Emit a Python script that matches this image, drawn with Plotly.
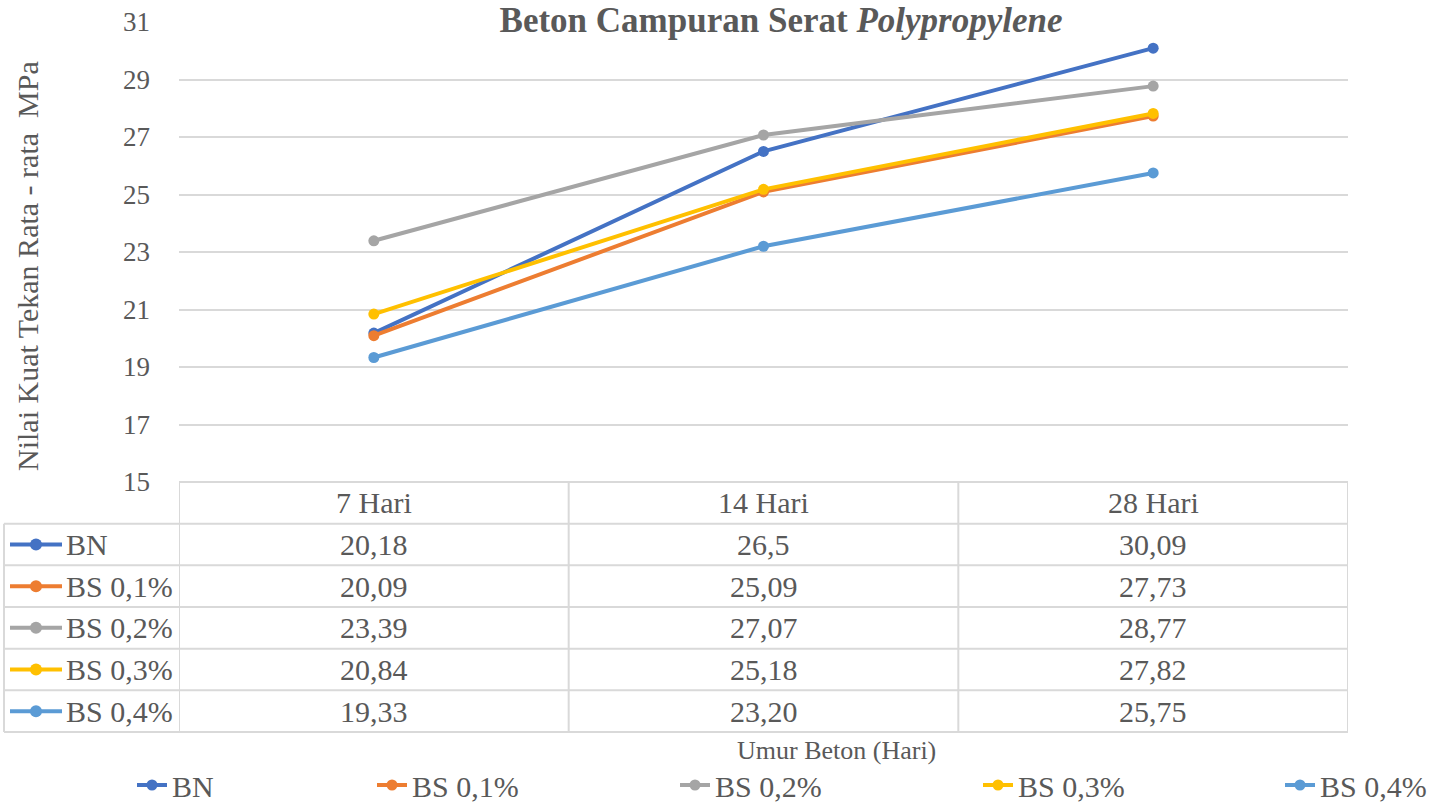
import plotly.graph_objects as go

categories = ["7 Hari", "14 Hari", "28 Hari"]
series_names = ["BN", "BS 0,1%", "BS 0,2%", "BS 0,3%", "BS 0,4%"]
bn = ["20,18", "26,5", "30,09"]
bs01 = ["20,09", "25,09", "27,73"]
bs02 = ["23,39", "27,07", "28,77"]
bs03 = ["20,84", "25,18", "27,82"]
bs04 = ["19,33", "23,20", "25,75"]
series_text = [bn, bs01, bs02, bs03, bs04]
colors = ["#4472C4", "#ED7D31", "#A5A5A5", "#FFC000", "#5B9BD5"]
y_ticks = [15, 17, 19, 21, 23, 25, 27, 29, 31]

W, H = 1431, 804
L, R, T, B = 179, 1348, 22, 482
PW, PH = R - L, B - T
FONT = "Liberation Serif"
TXT = "#595959"
GRID = "#D9D9D9"
legend_text_px = [172, 412, 715, 1018, 1320]

def px(x):
    return (x - L) / PW

def py(y):
    return (B - y) / PH

fig = go.Figure()
legend_ids = ["legend"] + ["legend%d" % (i + 2) for i in range(len(series_names) - 1)]
for name, txt, col, lid in zip(series_names, series_text, colors, legend_ids):
    vals = [float(t.replace(",", ".")) for t in txt]
    fig.add_trace(go.Scatter(
        x=categories, y=vals, name=name, mode="lines+markers", legend=lid,
        line=dict(color=col, width=4), marker=dict(color=col, size=11),
    ))

shapes = []
annotations = []

# data table
row_h = (732 - 482) / 6
rows = [B + i * row_h for i in range(7)]
line_style = dict(color=GRID, width=2)
shapes.append(dict(type="line", xref="x", yref="paper", x0=-0.5, x1=2.5,
                   y0=py(rows[0]), y1=py(rows[0]), line=line_style))
for r in rows[1:]:
    shapes.append(dict(type="line", xref="paper", yref="paper", x0=px(4), x1=1,
                       y0=py(r), y1=py(r), line=line_style))
for xv in [-0.5, 0.5, 1.5, 2.5]:
    shapes.append(dict(type="line", xref="x", yref="paper", x0=xv, x1=xv,
                       y0=py(rows[0]), y1=py(rows[-1]), line=line_style))
shapes.append(dict(type="line", xref="paper", yref="paper", x0=px(4), x1=px(4),
                   y0=py(rows[1]), y1=py(rows[-1]), line=line_style))

TF = dict(family=FONT, size=30, color=TXT)
for c in categories:
    annotations.append(dict(x=c, xref="x", y=py((rows[0] + rows[1]) / 2), yref="paper",
                            text=c, showarrow=False, xanchor="center", yanchor="middle", font=TF))
for i, (name, txt, col) in enumerate(zip(series_names, series_text, colors)):
    yc = py((rows[i + 1] + rows[i + 2]) / 2)
    shapes.append(dict(type="line", xref="paper", yref="paper", x0=px(10), x1=px(62),
                       y0=yc, y1=yc, line=dict(color=col, width=4)))
    shapes.append(dict(type="circle", xref="paper", yref="paper",
                       x0=px(30), x1=px(42), y0=yc - 6 / PH, y1=yc + 6 / PH,
                       fillcolor=col, line=dict(color=col, width=0)))
    annotations.append(dict(x=px(64), xref="paper", y=yc, yref="paper", text=name,
                            xanchor="left", yanchor="middle", showarrow=False, font=TF))
    for c, t in zip(categories, txt):
        annotations.append(dict(x=c, xref="x", y=yc, yref="paper", text=t, showarrow=False,
                                xanchor="center", yanchor="middle", font=TF))

annotations.append(dict(x=px(836), xref="paper", y=py(750), yref="paper",
                        text="Umur Beton (Hari)", showarrow=False,
                        xanchor="center", yanchor="middle",
                        font=dict(family=FONT, size=26, color=TXT)))
annotations.append(dict(x=px(27), xref="paper", y=py(266), yref="paper",
                        text="Nilai Kuat Tekan Rata - rata\u00a0\u00a0MPa", textangle=-90,
                        xanchor="center", yanchor="middle",
                        showarrow=False, font=dict(family=FONT, size=30, color=TXT)))

layout_legends = {}
for lid, lx in zip(legend_ids, legend_text_px):
    layout_legends[lid] = dict(orientation="h", x=px(lx - 40), xanchor="left",
                               y=py(785), yanchor="middle",
                               font=dict(family=FONT, size=30, color=TXT),
                               bgcolor="rgba(0,0,0,0)")

fig.update_layout(
    width=W, height=H,
    margin=dict(l=L, r=W - R, t=T, b=H - B, pad=0, autoexpand=False),
    paper_bgcolor="white", plot_bgcolor="white",
    title=dict(text="<b>Beton Campuran Serat <i>Polypropylene</i></b>",
               x=781 / W, xanchor="center", y=1 - 20 / H, yanchor="middle",
               font=dict(family=FONT, size=35, color=TXT)),
    xaxis=dict(range=[-0.5, 2.5], showticklabels=False, showgrid=False,
               zeroline=False, showline=False, ticks=""),
    yaxis=dict(range=[15, 31], tickvals=y_ticks, showgrid=True, gridcolor=GRID,
               gridwidth=1.5, zeroline=False, showline=False, ticks="",
               ticklabelstandoff=28,
               tickfont=dict(family=FONT, size=27, color=TXT)),
    shapes=shapes, annotations=annotations, showlegend=True,
    **layout_legends,
)

fig.write_html("out.html", config={"displayModeBar": False},
               post_script="document.body.style.margin='0';")
